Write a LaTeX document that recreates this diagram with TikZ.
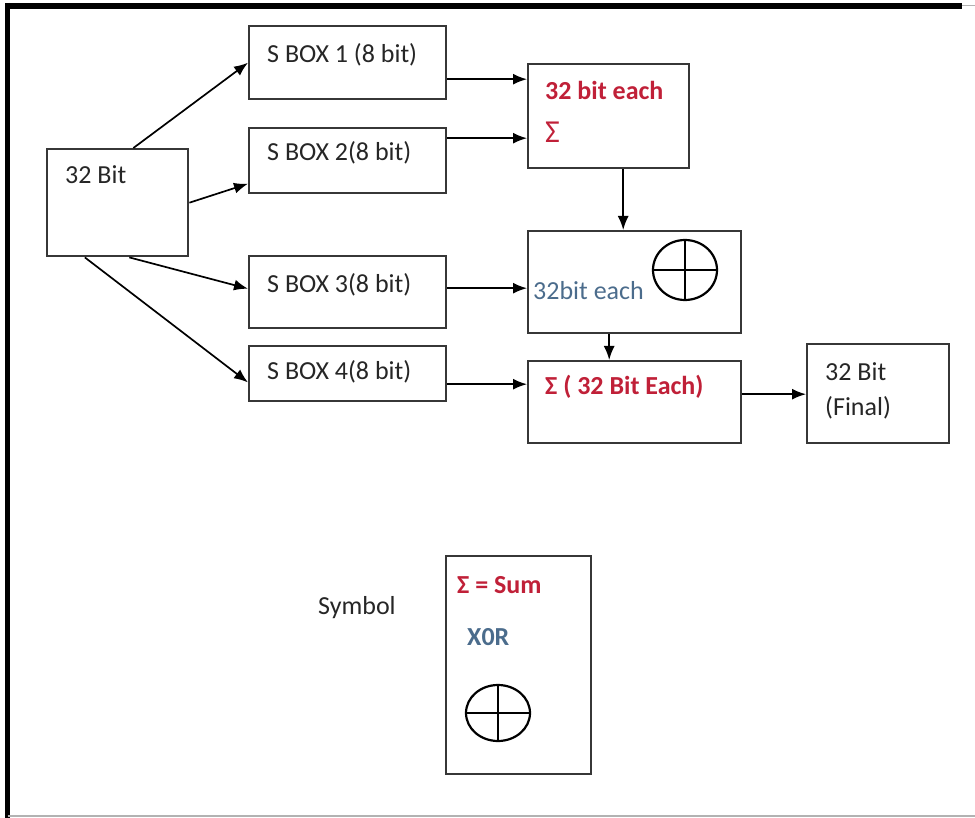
\documentclass[tikz,border=0pt]{standalone}
\usepackage{fontspec}
\setmainfont{Carlito}
\usetikzlibrary{arrows.meta}
\definecolor{sumred}{RGB}{192,32,56}
\definecolor{xorblue}{RGB}{75,108,140}
\definecolor{edgegray}{RGB}{55,55,55}
\newcommand{\lblsize}{\fontsize{26}{30}\selectfont}
\tikzset{
  box/.style={draw=edgegray, line width=2.4pt, inner sep=0pt, anchor=north west},
  txt/.style={anchor=west, inner sep=0pt, text=black!85, font=\lblsize},
  flow/.style={-{Latex[length=14pt,width=11pt]}, line width=1.7pt},
  xorsign/.style={line width=2.2pt},
}
\begin{document}
\begin{tikzpicture}[x=1pt,y=-1pt]
\useasboundingbox (0,0) rectangle (975,818);
% page frame
\draw[line width=6pt] (5,6) -- (962,6);
\draw[line width=5pt] (7.5,3) -- (7.5,818);
\draw[black!30, line width=1pt] (962,6) -- (975,6);
\draw[black!30, line width=1.5pt] (7.5,816) -- (975,816);

% boxes
\node[box, minimum width=141pt, minimum height=107pt] (in) at (46,148) {};
\node[box, minimum width=197pt, minimum height=73pt] (sb1) at (248,25) {};
\node[box, minimum width=197pt, minimum height=65pt] (sb2) at (248,127) {};
\node[box, minimum width=197pt, minimum height=72pt] (sb3) at (248,255) {};
\node[box, minimum width=197pt, minimum height=55pt] (sb4) at (248,345) {};
\node[box, minimum width=161pt, minimum height=104pt] (sum1) at (527,63) {};
\node[box, minimum width=213pt, minimum height=102pt] (xor) at (527,230) {};
\node[box, minimum width=213pt, minimum height=82pt] (sum2) at (527,360) {};
\node[box, minimum width=142pt, minimum height=99pt] (final) at (806,343) {};
\node[box, minimum width=145pt, minimum height=218pt] (legend) at (445,555) {};

% texts
\node[txt] (inlbl) at (65,175) {32 Bit};
\node[txt] (sb1lbl) at (267,55) {S BOX 1 (8 bit)};
\node[txt] (sb2lbl) at (267,153) {S BOX 2(8 bit)};
\node[txt] (sb3lbl) at (267,285) {S BOX 3(8 bit)};
\node[txt] (sb4lbl) at (267,372) {S BOX 4(8 bit)};
\node[txt, text=sumred, font=\lblsize\bfseries] (sum1lbl) at (545,90) {32 bit each};
\node[txt, text=sumred, font=\fontsize{32}{34}\selectfont] (sum1sig) at (545,132) {Σ};
\node[txt, text=xorblue] (xorlbl) at (533,291) {32bit each};
\node[txt, text=sumred, font=\lblsize\bfseries] (sum2lbl) at (545,387) {Σ ( 32 Bit Each)};
\node[txt] (finlbl) at (825,372) {32 Bit};
\node[txt] (finlbl2) at (825,408) {(Final)};
\node[txt] (symlbl) at (318,608) {Symbol};
\node[txt, text=sumred, font=\lblsize\bfseries] (sumkey) at (457,585) {Σ = Sum};
\node[txt, text=xorblue, font=\lblsize\bfseries] (xorkey) at (467,637) {X0R};

% xor signs
\draw[xorsign] (685,270) ellipse [x radius=32, y radius=30];
\draw[xorsign] (653,270) -- (717,270) (685,240) -- (685,300);
\draw[xorsign] (498,713) ellipse [x radius=32, y radius=28];
\draw[xorsign] (466,713) -- (530,713) (498,685) -- (498,741);

% connectors
\draw[flow] (in.74) -- (sb1.west);
\draw[flow] (in.east) -- (sb2.193);
\draw[flow] (in.-78) -- (sb3.178);
\draw[flow] (in.-121) -- (sb4.185);
\draw[flow] ([yshift=-16.5pt]sb1.east) -- ([yshift=-16.5pt]sb1.east -| sum1.west);
\draw[flow] ([yshift=22.5pt]sb2.east) -- ([yshift=22.5pt]sb2.east -| sum1.west);
\draw[flow] ([yshift=4pt]sb3.east) -- ([yshift=4pt]sb3.east -| xor.west);
\draw[flow] ([yshift=-10.5pt]sb4.east) -- ([yshift=-10.5pt]sb4.east -| sum2.west);
\draw[flow] ([xshift=14.5pt]sum1.south) -- ([xshift=14.5pt]sum1.south |- xor.north);
\draw[flow] ([xshift=-25.5pt]xor.south) -- ([xshift=-25.5pt]xor.south |- sum2.north);
\draw[flow] ([yshift=8pt]sum2.east) -- ([yshift=8pt]sum2.east -| final.west);
\end{tikzpicture}
\end{document}
